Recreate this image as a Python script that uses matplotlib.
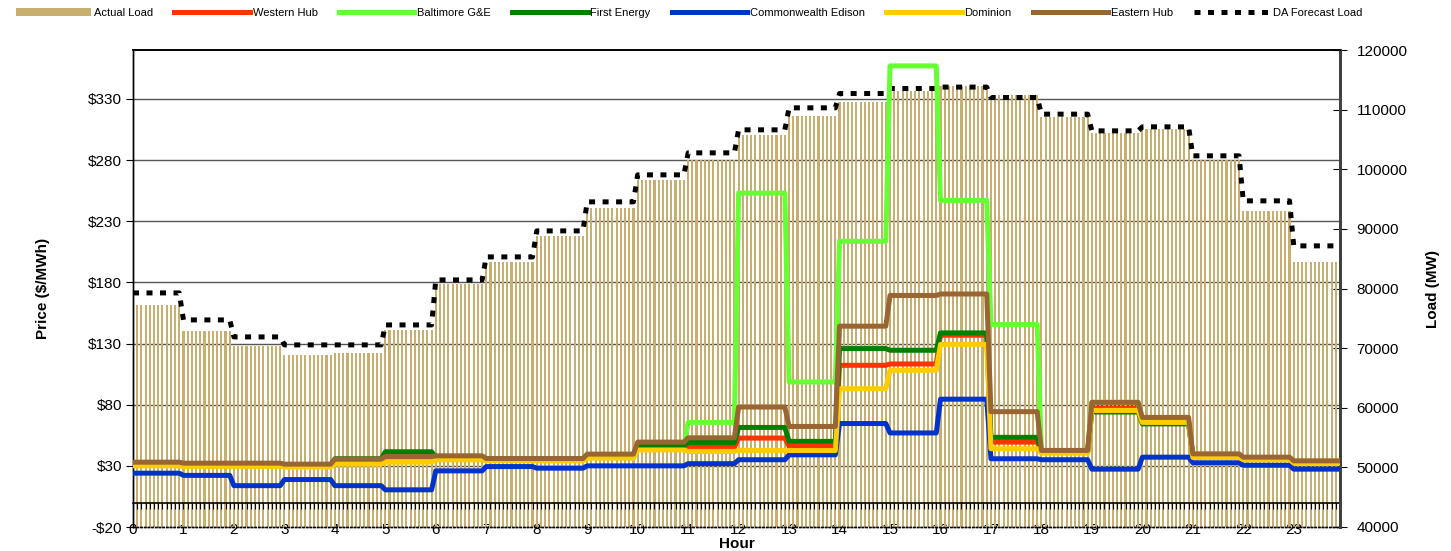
import numpy as np
import matplotlib
matplotlib.use("Agg")
import matplotlib.pyplot as plt
from matplotlib.ticker import FixedLocator

plt.rcParams['font.family'] = ['Liberation Sans', 'DejaVu Sans']

hours = np.arange(24)

# hourly values, each hour is shown as 12 five-minute intervals
actual_load = [77250, 72890, 70370, 68860, 69190, 73050, 80770, 84460, 88830, 93520,
               98220, 101580, 105770, 108960, 111360, 113150, 113880, 112480, 108680,
               106110, 106780, 101580, 93020, 84460]
da_forecast = [79260, 74730, 71880, 70540, 70540, 73890, 81440, 85300, 89660, 94530,
               99060, 102750, 106610, 110300, 112700, 113540, 113780, 112030, 109240,
               106440, 107110, 102250, 94700, 87150]

western_hub = [31, 30.5, 30.5, 30, 33, 35, 36, 35, 35, 37.5, 44, 45, 52.7, 45.9,
               112.2, 113.3, 136.8, 49.4, 41, 77, 66, 37.5, 35.5, 33]
baltimore = [31, 30.5, 30.5, 30, 33, 35.7, 36, 35, 35, 37.5, 46, 65.5, 253, 98.6,
             213.6, 357, 247, 145.6, 42, 82, 66, 37.5, 35.5, 33]
first_energy = [31.5, 31, 31, 30.5, 35.8, 41.5, 37, 35.5, 35.5, 38, 46.5, 49.1, 61.4, 50,
                125.9, 124.5, 138.7, 53.3, 42, 74, 64.3, 38, 36, 33.5]
comed = [24, 22.2, 13.8, 18.8, 13.8, 10.4, 25.9, 29.4, 28.1, 30, 30, 31.8, 35, 39,
         64.6, 56.9, 84.5, 35.8, 35, 27.3, 37.1, 32.5, 30.5, 27.3]
dominion = [30, 29.5, 29.5, 29, 31.4, 33, 34.9, 34.1, 34, 36.3, 43, 41.8, 42.6, 42.5,
            93.1, 108.1, 129.3, 44, 40.4, 75.3, 65.5, 36.8, 35, 32.2]
eastern_hub = [33, 32.2, 32.2, 31.4, 35.5, 37.6, 38.2, 36, 36, 39.6, 49.4, 52.9, 78.1, 62.2,
               144.2, 169.3, 170.5, 74.3, 42.6, 81.9, 69.6, 39.8, 37.1, 34.1]

price_series = [
    ("Western Hub", western_hub, "#FF3300"),
    ("Baltimore G&E", baltimore, "#66FF33"),
    ("First Energy", first_energy, "#008000"),
    ("Commonwealth Edison", comed, "#0033CC"),
    ("Dominion", dominion, "#FFCC00"),
    ("Eastern Hub", eastern_hub, "#996633"),
]

price_ticks = np.arange(-20, 331, 50)
load_ticks = np.arange(40000, 120001, 10000)
p_min, p_max = -20, 370
l_min, l_max = 40000, 120000

x = np.arange(24 * 12)

fig = plt.figure(figsize=(14.51, 5.51), dpi=100)
ax = fig.add_axes([133 / 1451, 1 - 527 / 551, (1340 - 133) / 1451, (527 - 50) / 551])
ax2 = ax.twinx()

# load axis (right side, drawn underneath)
bars = ax.bar(x, np.repeat(actual_load, 12), width=0.5, color="#C8AF70", zorder=2,
              label="Actual Load", antialiased=False)
fc_line, = ax.plot(x, np.repeat(da_forecast, 12), color="black", lw=3.6,
                   linestyle=(0, (1.2, 1.5)), zorder=3, label="DA Forecast Load")
ax.set_ylim(l_min, l_max)
ax.set_yticks(load_ticks)
ax.yaxis.tick_right()
ax.yaxis.set_label_position("right")
ax.set_ylabel("Load (MW)", fontsize=11, fontweight="bold", labelpad=13)
ax.tick_params(axis="y", direction="inout", length=10, labelsize=11, pad=7)

# price gridlines, behind the bars
grid_pos = l_min + (price_ticks[1:] - p_min) / (p_max - p_min) * (l_max - l_min)
ax.yaxis.set_minor_locator(FixedLocator(grid_pos))
ax.tick_params(axis="y", which="minor", length=0)
ax.grid(axis="y", which="minor", color="#555555", lw=1, zorder=0)
ax.set_axisbelow(True)

ax.set_xlim(0, x[-1])
ax.set_xticks(hours * 12)
ax.set_xticklabels([str(h) for h in hours])
ax.tick_params(axis="x", length=0, labelsize=11, pad=-3)
ax.set_xlabel("Hour", fontsize=11, fontweight="bold", labelpad=0)

# price axis (left side, lines on top)
price_lines = []
for name, vals, col in price_series:
    ln, = ax2.plot(x, np.repeat(vals, 12), color=col, lw=3.6, label=name,
                   solid_joinstyle="round", zorder=3)
    price_lines.append(ln)
ax2.set_ylim(p_min, p_max)
ax2.set_yticks(price_ticks)
ax2.set_yticklabels([f"-${-v}" if v < 0 else f"${v}" for v in price_ticks])
ax2.yaxis.tick_left()
ax2.yaxis.set_label_position("left")
ax2.set_ylabel("Price ($/MWh)", fontsize=11, fontweight="bold", labelpad=27)
ax2.tick_params(axis="y", direction="out", length=5, labelsize=11, pad=3)

# axis line at zero price with a tick per interval
zero_ax = ax2.secondary_xaxis((0 - p_min) / (p_max - p_min))
zero_ax.set_xticks(x)
zero_ax.set_xticklabels([])
zero_ax.tick_params(axis="x", direction="out", length=4, width=0.8, color="black")
zero_ax.spines["bottom"].set_linewidth(1.2)

for a in (ax, ax2):
    a.spines["bottom"].set_linestyle(":")
    a.spines["bottom"].set_linewidth(1)
    a.spines["top"].set_linewidth(1.2)
    a.spines["left"].set_linewidth(1)
    a.spines["right"].set_color("#404040")
    a.spines["right"].set_linewidth(2)

handles = [bars] + price_lines + [fc_line]
labels = [h.get_label() for h in handles]
fig.legend(handles, labels, loc="upper left", bbox_to_anchor=(8 / 1451, 1.0),
           ncol=8, frameon=False, fontsize=8, handlelength=6.8, handletextpad=0.25,
           columnspacing=1.9, borderaxespad=0.3)

fig.savefig("out.png", dpi=100)
